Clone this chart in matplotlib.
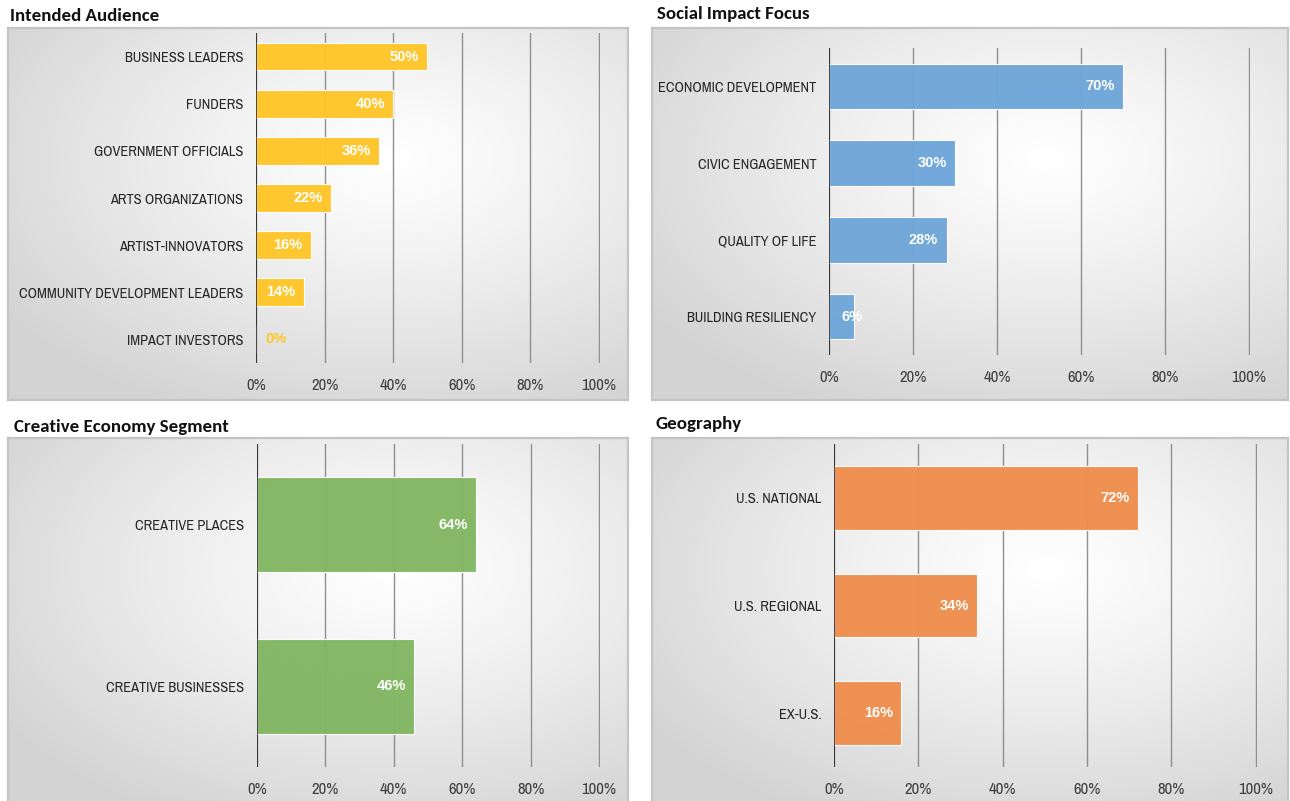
import matplotlib
matplotlib.use("Agg")
import matplotlib.pyplot as plt
import numpy as np
import logging
from matplotlib.ticker import PercentFormatter

logging.getLogger('matplotlib.font_manager').setLevel(logging.ERROR)

# data
audience_labels = ['BUSINESS LEADERS', 'FUNDERS', 'GOVERNMENT OFFICIALS', 'ARTS ORGANIZATIONS',
                   'ARTIST-INNOVATORS', 'COMMUNITY DEVELOPMENT LEADERS', 'IMPACT INVESTORS']
audience_values = [50, 40, 36, 22, 16, 14, 0]

impact_labels = ['ECONOMIC DEVELOPMENT', 'CIVIC ENGAGEMENT', 'QUALITY OF LIFE', 'BUILDING RESILIENCY']
impact_values = [70, 30, 28, 6]

segment_labels = ['CREATIVE PLACES', 'CREATIVE BUSINESSES']
segment_values = [64, 46]

geo_labels = ['U.S. NATIONAL', 'U.S. REGIONAL', 'EX-U.S.']
geo_values = [72, 34, 16]

xticks = [0, 20, 40, 60, 80, 100]

W, H = 1290, 801
fig = plt.figure(figsize=(W / 100, H / 100), dpi=100)
fig.patch.set_facecolor('white')

narrow = ['Archivo Narrow', 'PT Sans Narrow', 'Roboto Condensed', 'Pragati Narrow', 'Liberation Sans']
value_font = ['Liberation Sans', 'DejaVu Sans']
title_font = ['Carlito', 'Lato', 'DejaVu Sans']


def px_axes(x0, y0, x1, y1):
    return fig.add_axes([x0 / W, 1 - y1 / H, (x1 - x0) / W, (y1 - y0) / H])


def gradient_box(box):
    bg = px_axes(*box)
    ny, nx = 200, 300
    yy, xx = np.mgrid[0:1:ny * 1j, 0:1:nx * 1j]
    r = np.sqrt(((xx - 0.62) / 0.75) ** 2 + ((yy - 0.35) / 0.75) ** 2)
    r = np.clip(r, 0, 1)
    g = 1.0 - 0.17 * r ** 1.2
    img = np.dstack([g, g, g])
    bg.imshow(img, extent=[0, 1, 1, 0], aspect='auto', interpolation='bilinear')
    bg.set_xlim(0, 1)
    bg.set_ylim(1, 0)
    bg.set_xticks([])
    bg.set_yticks([])
    for s in bg.spines.values():
        s.set_color('#c4c4c4')
        s.set_linewidth(1.6)
    return bg


def panel(title, title_xy, box, plot_box, labels, values, color):
    gradient_box(box)
    ax = px_axes(*plot_box)
    ax.set_facecolor('none')
    n = len(labels)
    y = np.arange(n)
    ax.barh(y, values, height=0.59, color=color, edgecolor='#ffffff', linewidth=0.8,
            alpha=0.97, zorder=3)
    ax.set_xlim(0, 100.3)
    ax.set_ylim(n - 0.5, -0.5)
    ax.set_xticks(xticks)
    ax.xaxis.set_major_formatter(PercentFormatter(decimals=0))
    ax.set_yticks(y)
    ax.set_yticklabels(labels)
    ax.tick_params(axis='x', length=0, pad=11, labelsize=12, labelcolor='#404040')
    ax.tick_params(axis='y', length=0, pad=9, labelsize=10.4, labelcolor='#262626')
    for lab in ax.get_xticklabels() + ax.get_yticklabels():
        lab.set_family(narrow)
    ax.grid(axis='x', color='#8f8f8f', linewidth=1.0, zorder=1)
    ax.grid(axis='y', visible=False)
    for s in ax.spines.values():
        s.set_visible(False)
    ax.axvline(0, color='#262626', linewidth=1.2, zorder=4)

    for yi, v in zip(y, values):
        txt = f'{v}%'
        if v == 0:
            ax.annotate(txt, (v, yi), xytext=(7, 0), textcoords='offset points',
                        ha='left', va='center', color=color, fontsize=10.5,
                        fontweight='bold', family=value_font, zorder=5)
        elif v < 10:
            ax.annotate(txt, (0, yi), xytext=(9, 0), textcoords='offset points',
                        ha='left', va='center', color='white', fontsize=10.5,
                        fontweight='bold', family=value_font, zorder=5)
        else:
            ax.annotate(txt, (v, yi), xytext=(-6, 0), textcoords='offset points',
                        ha='right', va='center', color='white', fontsize=10.5,
                        fontweight='bold', family=value_font, zorder=5)

    fig.text(title_xy[0] / W, 1 - title_xy[1] / H, title, ha='left', va='center',
             fontsize=13.6, fontweight='bold', family=title_font, color='#111111')
    return ax


panel('Intended Audience', (10, 16), (8, 28, 628, 400), (256, 33, 600, 363),
      audience_labels, audience_values, '#FFC629')
panel('Social Impact Focus', (657, 14), (652, 28, 1288, 400), (829, 48, 1250, 355),
      impact_labels, impact_values, '#6FA6D9')
panel('Creative Economy Segment', (14, 427), (8, 438, 628, 812), (257, 444, 600, 767),
      segment_labels, segment_values, '#82B762')
panel('Geography', (656, 424), (652, 438, 1288, 812), (834, 444, 1257, 767),
      geo_labels, geo_values, '#EF8E4D')

fig.savefig('out.png', dpi=100)
